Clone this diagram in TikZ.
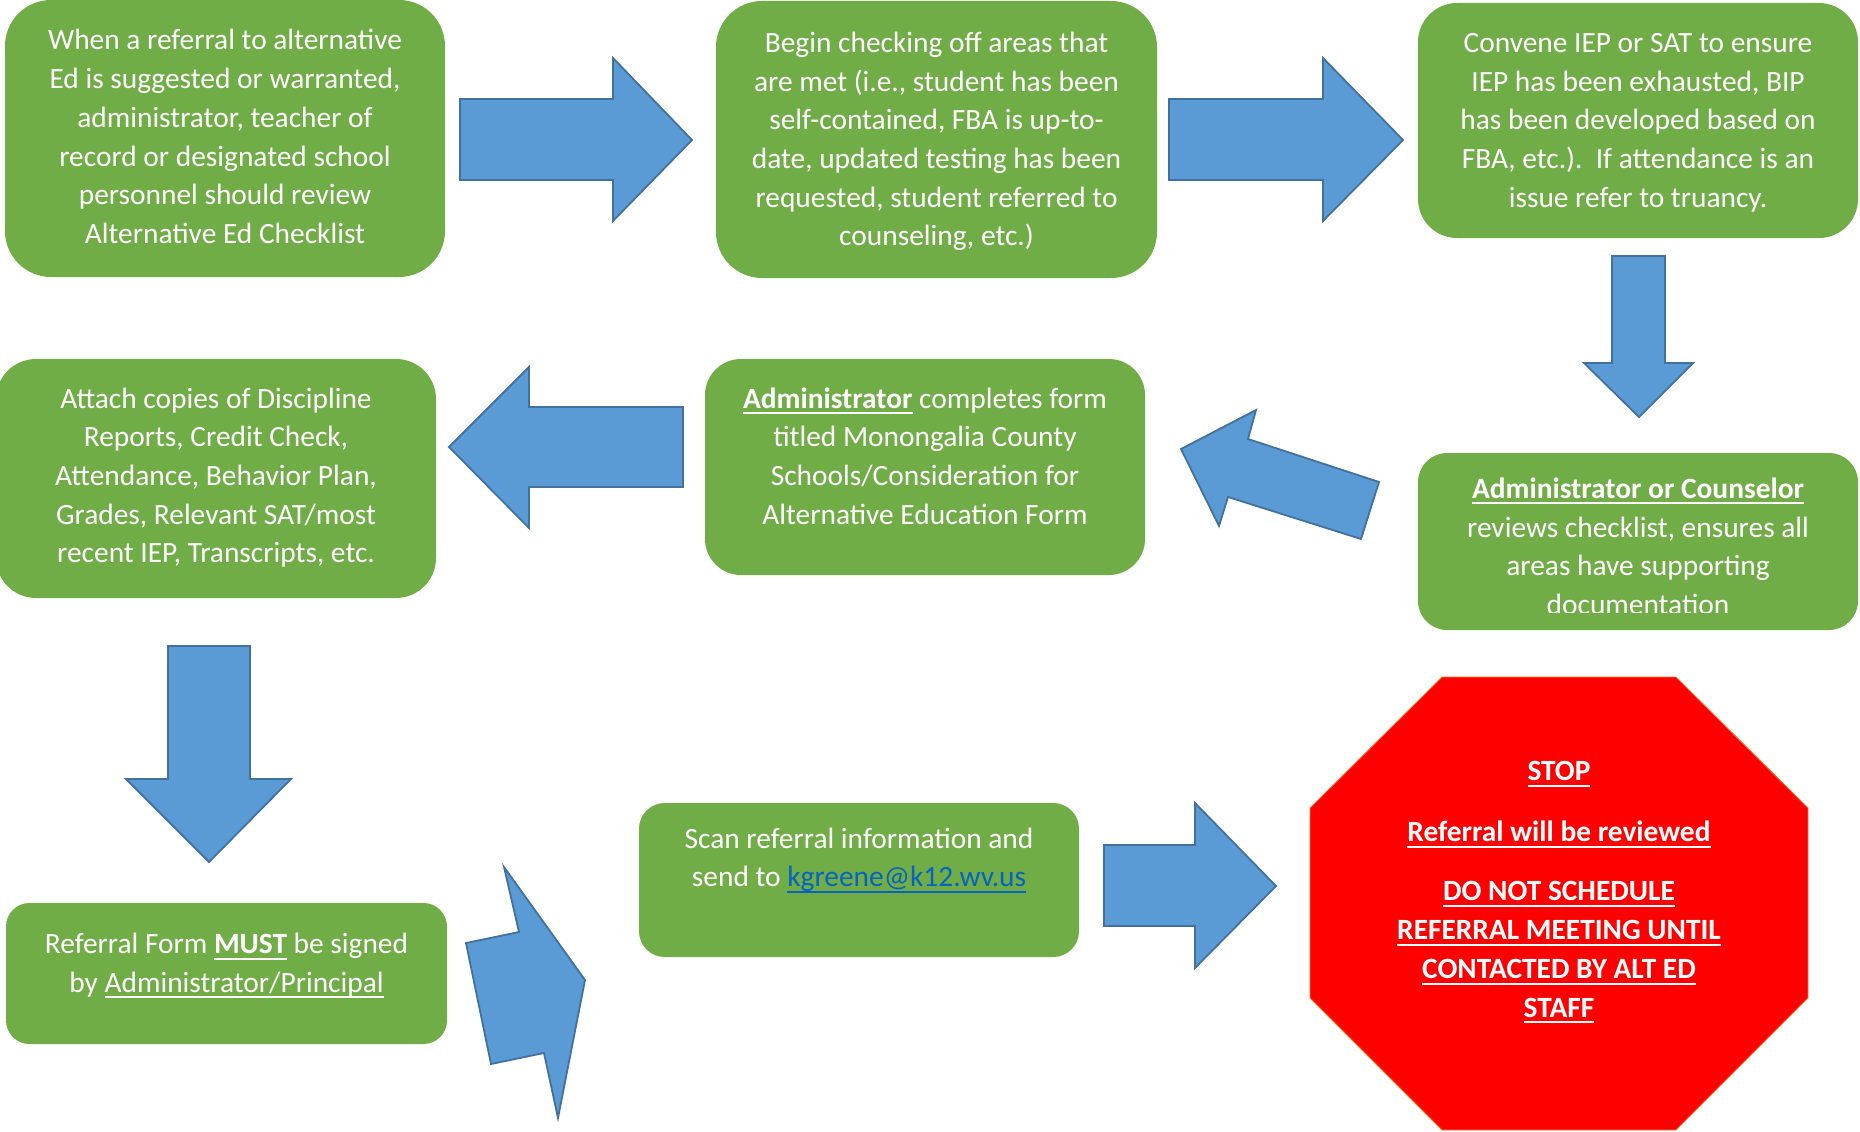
\documentclass[tikz,border=0pt]{standalone}
\usepackage{fontspec}
\setmainfont{Carlito}
\definecolor{boxgreen}{HTML}{70AD47}
\definecolor{arrowfill}{HTML}{5B9BD5}
\definecolor{arrowline}{HTML}{41719C}
\definecolor{linkblue}{HTML}{0563C1}
\definecolor{stopred}{HTML}{FF0000}
\definecolor{stopline}{HTML}{ED7D31}
\newcommand\myul[1]{\setbox0\hbox{#1}\rlap{\rule[-6pt]{\wd0}{2pt}}\box0\relax}
\newcommand\ls{\rule[-10pt]{0pt}{38.7pt}}
\begin{document}
\begin{tikzpicture}[x=1pt,y=-1pt,
  gbox/.style={fill=boxgreen, draw=none, rectangle, inner sep=0pt},
  txt/.style={text=white, align=center, inner sep=0pt, anchor=north, font=\fontsize{29.4}{38.7}\selectfont},
  barrow/.style={fill=arrowfill, draw=arrowline, line width=1.8pt, line join=miter}]
\useasboundingbox (0,0) rectangle (1860,1132);

% boxes
\node[gbox, minimum width=440pt, minimum height=277pt, rounded corners=46pt] (b1) at (225,138.5) {};
\node[gbox, minimum width=441pt, minimum height=277pt, rounded corners=46pt] (b2) at (936.5,139.5) {};
\node[gbox, minimum width=440pt, minimum height=235pt, rounded corners=39pt] (b3) at (1638,120.5) {};
\node[gbox, minimum width=440pt, minimum height=177pt, rounded corners=29pt] (b4) at (1638,541.5) {};
\node[gbox, minimum width=440pt, minimum height=216pt, rounded corners=36pt] (b5) at (925,467) {};
\node[gbox, minimum width=440pt, minimum height=239pt, rounded corners=40pt] (b6) at (216,478.5) {};
\node[gbox, minimum width=441pt, minimum height=141pt, rounded corners=23.5pt] (b7) at (226.5,973.5) {};
\node[gbox, minimum width=440pt, minimum height=154pt, rounded corners=25.7pt] (b8) at (859,880) {};

% stop octagon
\draw[fill=stopred, draw=stopline, line width=0.8pt] (1442,677) -- (1676,677) -- (1808,808) -- (1808,998)
  -- (1676,1130) -- (1442,1130) -- (1310,998) -- (1310,808) -- cycle;

% texts
\node[txt] (t1) at (225,21) {\ls When a referral to alternative\\ \ls Ed is suggested or warranted,\\ \ls administrator, teacher of\\ \ls record or designated school\\ \ls personnel should review\\ \ls Alternative Ed Checklist};
\node[txt] (t2) at (936.5,23.4) {\ls Begin checking off areas that\\ \ls are met (i.e., student has been\\ \ls self-contained, FBA is up-to-\\ \ls date, updated testing has been\\ \ls requested, student referred to\\ \ls counseling, etc.)};
\node[txt] (t3) at (1638,23.4) {\ls Convene IEP or SAT to ensure\\ \ls IEP has been exhausted, BIP\\ \ls has been developed based on\\ \ls FBA, etc.).\ \ If attendance is an\\ \ls issue refer to truancy.};
\begin{scope}
\clip (1418,453) rectangle (1858,612);
\node[txt] (t4) at (1638,469.5) {\ls\myul{\bfseries Administrator or Counselor}\\ \ls reviews checklist, ensures all\\ \ls areas have supporting\\ \ls documentation};
\end{scope}
\node[txt] (t5) at (925,379.2) {\ls\myul{\bfseries Administrator} completes form\\ \ls titled Monongalia County\\ \ls Schools/Consideration for\\ \ls Alternative Education Form};
\node[txt] (t6) at (216,379.2) {\ls Attach copies of Discipline\\ \ls Reports, Credit Check,\\ \ls Attendance, Behavior Plan,\\ \ls Grades, Relevant SAT/most\\ \ls recent IEP, Transcripts, etc.};
\node[txt] (t7) at (226.5,924.7) {\ls Referral Form \myul{\bfseries MUST} be signed\\ \ls by \myul{Administrator/Principal}};
\node[txt] (t8) at (859,819.2) {\ls Scan referral information and\\ \ls send to {\color{linkblue}\myul{kgreene@k12.wv.us}}};
\node[txt, font=\fontsize{29.4}{38.9}\selectfont\bfseries] (t9) at (1559,752) {\ls\myul{STOP}\\[22pt] \ls\myul{Referral will be reviewed}\\[20pt] \ls\myul{DO NOT SCHEDULE}\\ \ls\myul{REFERRAL MEETING UNTIL}\\ \ls\myul{CONTACTED BY ALT ED}\\ \ls\myul{STAFF}};

% block arrows
\draw[barrow] (460,99) -- (613,99) -- (613,58) -- (692,140) -- (613,221) -- (613,180) -- (460,180) -- cycle;
\draw[barrow] (1169,99) -- (1323,99) -- (1323,58) -- (1403,140) -- (1323,221) -- (1323,180) -- (1169,180) -- cycle;
\draw[barrow] (1612,256) -- (1665,256) -- (1665,363) -- (1693,363) -- (1639,417) -- (1584,363) -- (1612,363) -- cycle;
\draw[barrow] (1181,449) -- (1256,410) -- (1248,439) -- (1379,482) -- (1361,539) -- (1228,497) -- (1219,526) -- cycle;
\draw[barrow] (449,447) -- (529,367) -- (529,407) -- (683,407) -- (683,487) -- (529,487) -- (529,528) -- cycle;
\draw[barrow] (168,646) -- (250,646) -- (250,779) -- (291,779) -- (209,862) -- (126,779) -- (168,779) -- cycle;
\draw[barrow] (504,867) -- (585,980) -- (558,1118) -- (544,1053) -- (491,1064) -- (466,943) -- (519,932) -- cycle;
\draw[barrow] (1104,845) -- (1195,845) -- (1195,803) -- (1276,886) -- (1195,968) -- (1195,926) -- (1104,926) -- cycle;
\end{tikzpicture}
\end{document}
